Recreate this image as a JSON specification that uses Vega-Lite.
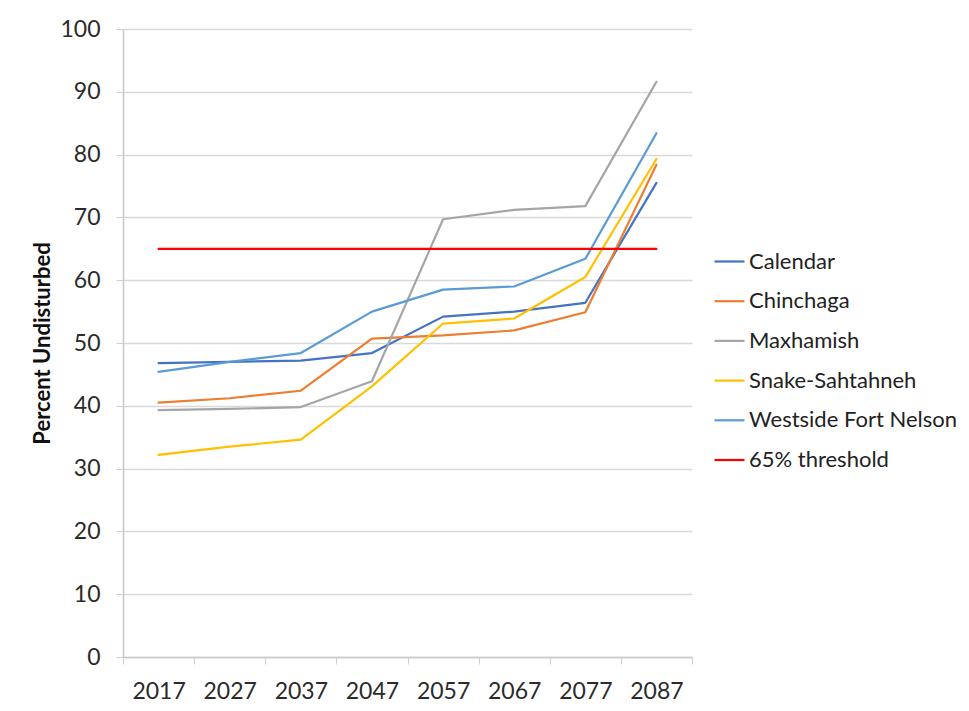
{
  "$schema": "https://vega.github.io/schema/vega-lite/v6.json",
  "width": 569,
  "height": 628,
  "autosize": {"type": "none"},
  "padding": {"left": 123, "top": 29, "right": 277, "bottom": 54},
  "background": "white",
  "config": {
    "font": "Lato",
    "view": {"stroke": null},
    "axis": {"labelColor": "#2b2b2b", "titleColor": "#111111", "labelFont": "Lato", "titleFont": "Lato"},
    "legend": {"labelFont": "Lato"}
  },
  "data": {
    "values": [
      {"year": "2017", "series": "Calendar", "value": 46.8},
      {"year": "2027", "series": "Calendar", "value": 47.0},
      {"year": "2037", "series": "Calendar", "value": 47.2},
      {"year": "2047", "series": "Calendar", "value": 48.4},
      {"year": "2057", "series": "Calendar", "value": 54.2},
      {"year": "2067", "series": "Calendar", "value": 55.0},
      {"year": "2077", "series": "Calendar", "value": 56.4},
      {"year": "2087", "series": "Calendar", "value": 75.5},
      {"year": "2017", "series": "Chinchaga", "value": 40.5},
      {"year": "2027", "series": "Chinchaga", "value": 41.2},
      {"year": "2037", "series": "Chinchaga", "value": 42.4},
      {"year": "2047", "series": "Chinchaga", "value": 50.7},
      {"year": "2057", "series": "Chinchaga", "value": 51.2},
      {"year": "2067", "series": "Chinchaga", "value": 52.0},
      {"year": "2077", "series": "Chinchaga", "value": 54.9},
      {"year": "2087", "series": "Chinchaga", "value": 78.4},
      {"year": "2017", "series": "Maxhamish", "value": 39.3},
      {"year": "2027", "series": "Maxhamish", "value": 39.5},
      {"year": "2037", "series": "Maxhamish", "value": 39.8},
      {"year": "2047", "series": "Maxhamish", "value": 43.9},
      {"year": "2057", "series": "Maxhamish", "value": 69.7},
      {"year": "2067", "series": "Maxhamish", "value": 71.2},
      {"year": "2077", "series": "Maxhamish", "value": 71.8},
      {"year": "2087", "series": "Maxhamish", "value": 91.6},
      {"year": "2017", "series": "Snake-Sahtahneh", "value": 32.2},
      {"year": "2027", "series": "Snake-Sahtahneh", "value": 33.5},
      {"year": "2037", "series": "Snake-Sahtahneh", "value": 34.6},
      {"year": "2047", "series": "Snake-Sahtahneh", "value": 43.1},
      {"year": "2057", "series": "Snake-Sahtahneh", "value": 53.1},
      {"year": "2067", "series": "Snake-Sahtahneh", "value": 53.9},
      {"year": "2077", "series": "Snake-Sahtahneh", "value": 60.5},
      {"year": "2087", "series": "Snake-Sahtahneh", "value": 79.3},
      {"year": "2017", "series": "Westside Fort Nelson", "value": 45.4},
      {"year": "2027", "series": "Westside Fort Nelson", "value": 47.0},
      {"year": "2037", "series": "Westside Fort Nelson", "value": 48.4},
      {"year": "2047", "series": "Westside Fort Nelson", "value": 55.0},
      {"year": "2057", "series": "Westside Fort Nelson", "value": 58.5},
      {"year": "2067", "series": "Westside Fort Nelson", "value": 59.0},
      {"year": "2077", "series": "Westside Fort Nelson", "value": 63.4},
      {"year": "2087", "series": "Westside Fort Nelson", "value": 83.4},
      {"year": "2017", "series": "65% threshold", "value": 65},
      {"year": "2027", "series": "65% threshold", "value": 65},
      {"year": "2037", "series": "65% threshold", "value": 65},
      {"year": "2047", "series": "65% threshold", "value": 65},
      {"year": "2057", "series": "65% threshold", "value": 65},
      {"year": "2067", "series": "65% threshold", "value": 65},
      {"year": "2077", "series": "65% threshold", "value": 65},
      {"year": "2087", "series": "65% threshold", "value": 65}
    ]
  },
  "mark": {"type": "line", "strokeCap": "round", "strokeJoin": "round"},
  "encoding": {
    "x": {
      "field": "year",
      "type": "ordinal",
      "bandPosition": 0.5,
      "scale": {"type": "band", "paddingInner": 0, "paddingOuter": 0},
      "axis": {
        "title": null,
        "labelAngle": 0,
        "labelFontSize": 23,
        "labelPadding": 16,
        "tickBand": "extent",
        "tickSize": 7,
        "tickColor": "#d0d0d0",
        "domainColor": "#c8c8c8",
        "domainWidth": 1.5,
        "grid": false
      }
    },
    "y": {
      "field": "value",
      "type": "quantitative",
      "scale": {"domain": [0, 100], "nice": false, "zero": true},
      "axis": {
        "title": "Percent Undisturbed",
        "titleFontSize": 22,
        "titleFontWeight": "bold",
        "titlePadding": 5,
        "values": [0, 10, 20, 30, 40, 50, 60, 70, 80, 90, 100],
        "labelFontSize": 23,
        "labelPadding": 16,
        "tickSize": 7,
        "tickColor": "#d0d0d0",
        "domainColor": "#c8c8c8",
        "domainWidth": 1.5,
        "grid": true,
        "gridColor": "#d9d9d9",
        "gridWidth": 1.5
      }
    },
    "color": {
      "field": "series",
      "type": "nominal",
      "sort": ["Calendar", "Chinchaga", "Maxhamish", "Snake-Sahtahneh", "Westside Fort Nelson", "65% threshold"],
      "scale": {
        "domain": ["Calendar", "Chinchaga", "Maxhamish", "Snake-Sahtahneh", "Westside Fort Nelson", "65% threshold"],
        "range": ["#4472C4", "#ED7D31", "#A5A5A5", "#FFC000", "#5B9BD5", "#FF0000"]
      },
      "legend": {
        "title": null,
        "orient": "none",
        "legendX": 590,
        "legendY": 216,
        "symbolType": "stroke",
        "symbolSize": 900,
        "symbolStrokeWidth": 2.5,
        "labelFontSize": 22,
        "labelColor": "#222222",
        "labelOffset": 3,
        "labelLimit": 400,
        "rowPadding": 11.7
      }
    },
    "strokeWidth": {
      "field": "series",
      "type": "nominal",
      "scale": {
        "domain": ["Calendar", "Chinchaga", "Maxhamish", "Snake-Sahtahneh", "Westside Fort Nelson", "65% threshold"],
        "range": [2.2, 2.2, 2.2, 2.2, 2.2, 3.2]
      },
      "legend": null
    }
  }
}
